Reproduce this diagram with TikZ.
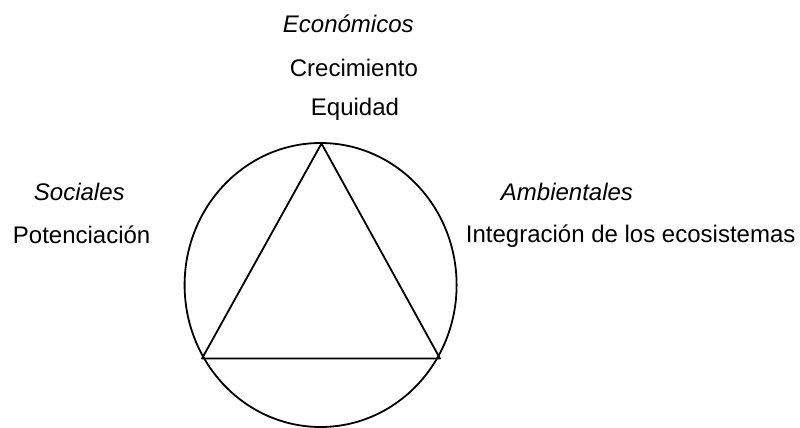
\documentclass[tikz,border=0pt]{standalone}
\usepackage{fontspec}
\setmainfont{Liberation Sans}
\tikzset{
  lbl/.style={font=\fontsize{24}{28}\selectfont, anchor=base west, inner sep=0pt},
  head/.style={lbl, font=\fontsize{24}{28}\selectfont\itshape}
}
\begin{document}
\begin{tikzpicture}[x=1pt,y=-1pt,line width=1.8pt]
      \useasboundingbox (0,0) rectangle (800,428);
      \draw
        (282,33) node[head] (eco){Económicos}
        (289,77) node[lbl] (crec){Crecimiento}
        (310,115.5) node[lbl] (equi){Equidad}
        (33,200) node[head] (soc){Sociales}
        (12,243) node[lbl] (pot){Potenciación}
        (500,200) node[head] (amb){Ambientales}
        (465,242) node[lbl] (integ){Integración de los ecosistemas};
      \coordinate (top) at (321.5,143.5);
      \coordinate (left) at (202,358.5);
      \coordinate (right) at (440,358.5);
      \draw (320.6,285) ellipse [x radius=136, y radius=142];
      \draw[line join=round] (top) -- (left) -- (right) -- cycle;
    \end{tikzpicture}
\end{document}
